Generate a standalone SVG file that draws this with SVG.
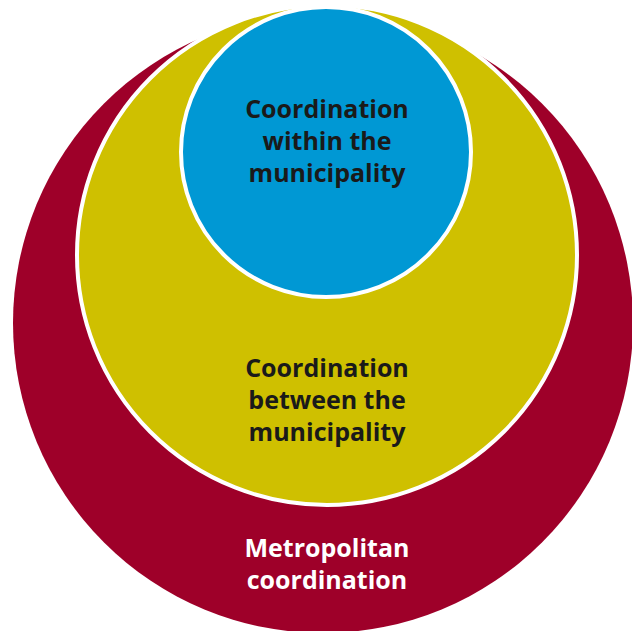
<svg xmlns="http://www.w3.org/2000/svg" width="632" height="631" viewBox="0 0 632 631">
<style>
.ring{stroke:#fff;stroke-width:4}
.t{font-family:"Open Sans","Noto Sans",sans-serif;font-weight:bold;font-size:25px;text-anchor:middle}
.dark{fill:#1a1a1a}
.light{fill:#fff}
</style>
<rect width="632" height="631" fill="#fff"/>
<g id="metropolitan">
<circle cx="323" cy="323" r="310" fill="#9e0029"/>
<text class="t light" x="327" y="557">Metropolitan</text>
<text class="t light" x="327" y="589">coordination</text>
</g>
<g id="between">
<circle class="ring" cx="327" cy="255" r="250" fill="#cfc000"/>
<text class="t dark" x="327" y="377">Coordination</text>
<text class="t dark" x="327" y="409">between the</text>
<text class="t dark" x="327" y="441">municipality</text>
</g>
<g id="within">
<circle class="ring" cx="326" cy="152" r="145" fill="#0098d4"/>
<text class="t dark" x="327" y="118">Coordination</text>
<text class="t dark" x="327" y="150">within the</text>
<text class="t dark" x="327" y="182">municipality</text>
</g>
<g id="connectors"/>
</svg>
